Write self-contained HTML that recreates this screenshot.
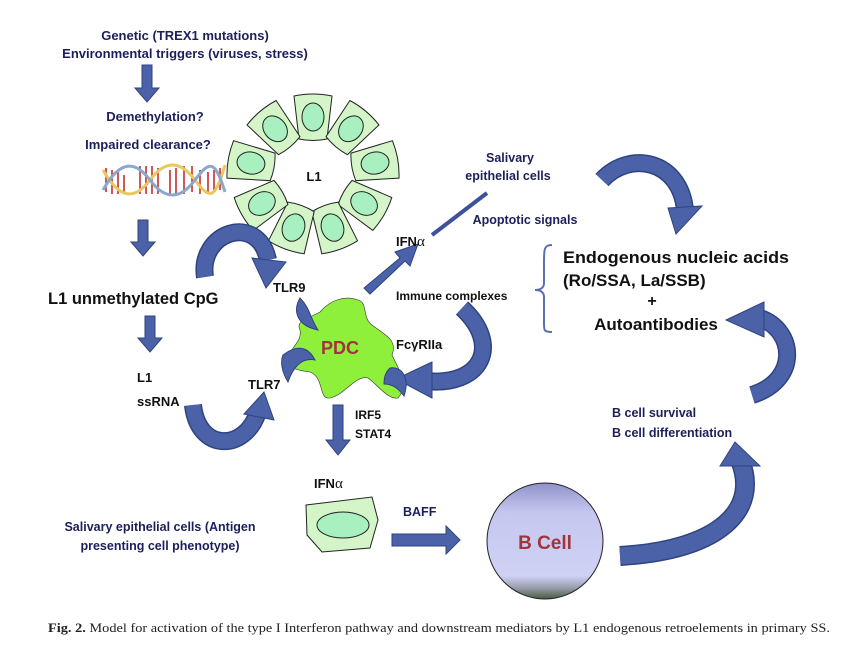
<!DOCTYPE html>
<html><head><meta charset="utf-8"><style>
body{margin:0;background:#fff}
svg{display:block}
.t{font-family:"Liberation Sans",sans-serif;font-weight:bold}
.n{fill:#1c1f5a}
.k{fill:#111}
</style></head><body>
<svg width="850" height="649" viewBox="0 0 850 649" xmlns="http://www.w3.org/2000/svg">
<defs>
<linearGradient id="bg2" x1="0" y1="0" x2="0" y2="1">
<stop offset="0" stop-color="#8f92c8"/><stop offset="0.25" stop-color="#c5c7f0"/><stop offset="0.8" stop-color="#cfd1f5"/><stop offset="0.9" stop-color="#9aa0b0"/><stop offset="1" stop-color="#4a5a40"/>
</linearGradient>
<g id="cell"><path d="M-19,-22 Q0,-26 19,-22 L14,21 Q0,24 -14,21 Z" fill="#d4f5c8" stroke="#222" stroke-width="1"/><ellipse cx="0" cy="-1" rx="11" ry="14" fill="#a8f0c0" stroke="#222" stroke-width="1"/></g>
</defs>
<g class="t" font-size="13">
<text x="185" y="40" text-anchor="middle" class="n">Genetic (TREX1 mutations)</text>
<text x="185" y="58" text-anchor="middle" class="n">Environmental triggers (viruses, stress)</text>
<text x="155" y="121" text-anchor="middle" class="n">Demethylation?</text>
<text x="148" y="149" text-anchor="middle" class="n">Impaired clearance?</text>
</g>
<g fill="#4b62a8" stroke="#2e437f" stroke-width="1">
<polygon points="142,65 152,65 152,88 159,88 147,102 135,88 142,88"/>
<polygon points="138,220 148,220 148,242 155,242 143,256 131,242 138,242"/>
<polygon points="145,316 155,316 155,338 162,338 150,352 138,338 145,338"/>
<polygon points="333,405 343,405 343,440 350,440 338,455 326,440 333,440"/>
<polygon points="392,534 446,534 446,526 460,540 446,554 446,546 392,546"/>
<polygon points="364,288 400,258 395,252 418,244 410,266 405,261 370,294"/>
</g>
<line x1="432" y1="235" x2="487" y2="193" stroke="#3d5399" stroke-width="4"/>
<g stroke-width="2.5" fill="none">
<g stroke="#c02020" stroke-width="1.5">
<path d="M106,168v24M112,170v24M118,172v22M124,175v18M140,166v28M146,166v28M152,166v28M158,168v26M170,170v24M176,168v28M184,166v28M192,166v26M200,170v24M208,172v22M214,170v22M220,168v22"/>
</g>
<path d="M103,170 C120,200 135,200 150,180 S180,160 195,180 S215,200 225,165" stroke="#e8c860" stroke-width="3"/>
<path d="M103,190 C120,160 135,160 150,180 S180,200 195,180 S215,160 225,192" stroke="#88a8d0" stroke-width="3"/>
</g>
<g>
<use href="#cell" transform="translate(313,174) rotate(0) translate(0,-56)"/>
<use href="#cell" transform="translate(313,174) rotate(40) translate(0,-58)"/>
<use href="#cell" transform="translate(313,174) rotate(80) translate(0,-62)"/>
<use href="#cell" transform="translate(313,174) rotate(120) translate(0,-58)"/>
<use href="#cell" transform="translate(313,174) rotate(160) translate(0,-56)"/>
<use href="#cell" transform="translate(313,174) rotate(200) translate(0,-56)"/>
<use href="#cell" transform="translate(313,174) rotate(240) translate(0,-58)"/>
<use href="#cell" transform="translate(313,174) rotate(280) translate(0,-62)"/>
<use href="#cell" transform="translate(313,174) rotate(320) translate(0,-58)"/>
</g>
<text x="314" y="181" class="t k" font-size="13" text-anchor="middle">L1</text>
<g fill="none" stroke-linecap="butt">
<path d="M205,277 C198,232 258,212 268,260" stroke="#2e437f" stroke-width="18"/>
<path d="M205,277 C198,232 258,212 268,260" stroke="#4b62a8" stroke-width="15"/>
<path d="M193,405 C198,452 245,452 258,412" stroke="#2e437f" stroke-width="18"/>
<path d="M193,405 C198,452 245,452 258,412" stroke="#4b62a8" stroke-width="15"/>
<path d="M462,308 C502,345 482,387 425,381" stroke="#2e437f" stroke-width="18"/>
<path d="M462,308 C502,345 482,387 425,381" stroke="#4b62a8" stroke-width="15"/>
<path d="M602,180 C630,150 680,160 685,210" stroke="#2e437f" stroke-width="18"/>
<path d="M602,180 C630,150 680,160 685,210" stroke="#4b62a8" stroke-width="15"/>
<path d="M752,395 C800,380 795,330 760,318" stroke="#2e437f" stroke-width="18"/>
<path d="M752,395 C800,380 795,330 760,318" stroke="#4b62a8" stroke-width="15"/>
<path d="M620,556 C720,550 760,510 740,460" stroke="#2e437f" stroke-width="20"/>
<path d="M620,556 C720,550 760,510 740,460" stroke="#4b62a8" stroke-width="17"/>
</g>
<g fill="#4b62a8" stroke="#2e437f" stroke-width="1">
<polygon points="252,258 286,262 266,288"/>
<polygon points="244,414 264,392 274,420"/>
<polygon points="432,362 396,379 432,398"/>
<polygon points="668,208 702,206 676,234"/>
<polygon points="764,302 726,320 764,337"/>
<polygon points="720,466 735,442 760,466"/>
</g>
<path d="M300,330 C295,320 310,318 320,312 C330,300 345,295 358,300 C368,302 362,318 372,325 C385,335 398,340 392,355 C398,368 410,385 398,398 C388,400 378,385 368,378 C355,375 345,395 330,398 C318,400 325,378 310,372 C295,370 285,368 290,355 C292,345 302,342 300,330 Z" fill="#8ef03a" stroke="#333" stroke-width="0.6"/>
<g fill="#4b62a8" stroke="#2e437f" stroke-width="1">
<path d="M300,298 C292,312 298,326 318,330 C310,318 310,308 300,298Z"/>
<path d="M283,355 C300,342 310,350 315,360 C305,358 295,362 288,382 C282,372 280,362 283,355Z"/>
<path d="M390,368 C402,366 410,378 404,396 C398,388 392,384 384,384 C384,376 386,372 390,368Z"/>
</g>
<text x="340" y="354" class="t" font-size="18" fill="#a0353a" text-anchor="middle">PDC</text>
<g class="t k" font-size="13">
<text x="273" y="292">TLR9</text>
<text x="248" y="389">TLR7</text>
<text x="48" y="304" font-size="16.5">L1  unmethylated CpG</text>
<text x="137" y="382">L1</text>
<text x="137" y="406">ssRNA</text>
<text x="396" y="246">IFN<tspan font-family="Liberation Serif" font-weight="normal" font-size="15">α</tspan></text>
<text x="396" y="300" font-size="12">Immune complexes</text>
<text x="396" y="349">FcγRIIa</text>
<text x="355" y="419" font-size="12">IRF5</text>
<text x="355" y="438" font-size="12">STAT4</text>
<text x="314" y="488">IFN<tspan font-family="Liberation Serif" font-weight="normal" font-size="15">α</tspan></text>
<text x="563" y="263" font-size="17" textLength="226" lengthAdjust="spacingAndGlyphs">Endogenous nucleic acids</text>
<text x="563" y="286" font-size="17">(Ro/SSA, La/SSB)</text>
<text x="652" y="306" font-size="16" text-anchor="middle">+</text>
<text x="656" y="330" font-size="17" text-anchor="middle">Autoantibodies</text>
</g>
<g class="t n" font-size="12.5">
<text x="510" y="162" text-anchor="middle">Salivary</text>
<text x="508" y="180" text-anchor="middle">epithelial cells</text>
<text x="525" y="224" text-anchor="middle">Apoptotic signals</text>
<text x="612" y="417">B cell survival</text>
<text x="612" y="437">B cell differentiation</text>
<text x="403" y="516">BAFF</text>
<text x="160" y="531" text-anchor="middle">Salivary epithelial cells (Antigen</text>
<text x="160" y="550" text-anchor="middle">presenting cell phenotype)</text>
</g>
<path d="M552,245 C543,245 544,250 544,270 L544,283 C544,288 540,290 535,290 C540,290 544,292 544,297 L544,320 C544,330 543,332 552,332" fill="none" stroke="#5b6fb0" stroke-width="2"/>
<path d="M306,505 L372,497 L378,520 L370,548 L322,552 L307,535 Z" fill="#d4f5c8" stroke="#222" stroke-width="1"/>
<ellipse cx="343" cy="525" rx="26" ry="13" fill="#a8f0c0" stroke="#222" stroke-width="1"/>
<circle cx="545" cy="541" r="58" fill="url(#bg2)" stroke="#222" stroke-width="1"/>
<text x="545" y="549" class="t" font-size="19" fill="#a0353a" text-anchor="middle">B Cell</text>
<text x="48" y="632" font-family="Liberation Serif" font-size="12.5" fill="#222" textLength="782" lengthAdjust="spacingAndGlyphs"><tspan font-weight="bold">Fig. 2.</tspan>  Model for activation of the type I Interferon pathway and downstream mediators by L1 endogenous retroelements in primary SS.</text>
</svg>
</body></html>
